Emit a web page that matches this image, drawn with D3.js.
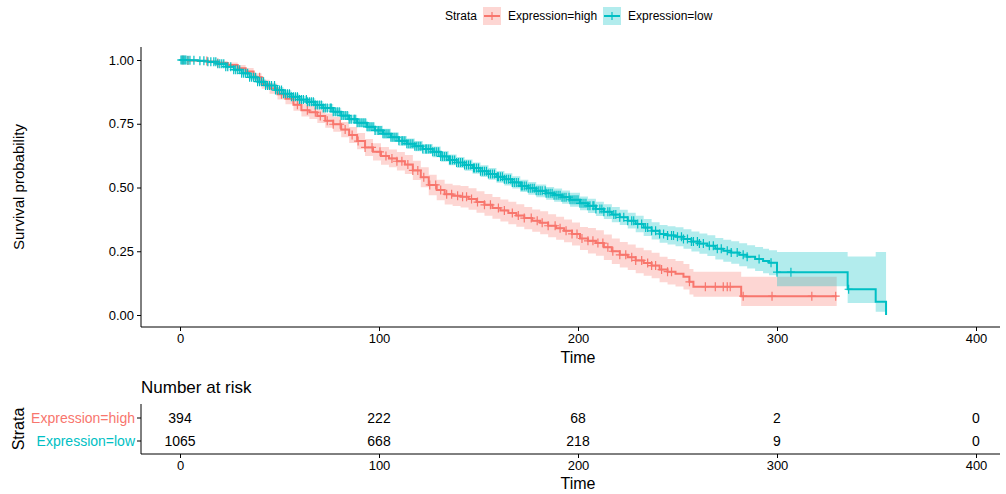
<html>
  <head>
    <meta charset="utf-8">
    <title>Survival by expression</title>
  </head>
<style>
  body { margin: 0; background: #fff; }
  text { font-family: "Liberation Sans", Arial, Helvetica, sans-serif; }
</style>
  <body>
    <script src="https://d3js.org/d3.v7.min.js" charset="utf-8"></script>
    <script>

    var width = 1006,
        height = 494;

    // ---- data ----
    var strata = ["Expression=high", "Expression=low"];
    var colors = ["#F8766D", "#00BFC4"];

    var highTime  = [0, 4, 9, 14, 19, 24, 29, 33, 37, 41, 45, 49, 53, 57, 61, 65, 69, 73, 77, 81, 85, 89, 93, 97, 101, 105, 109, 113, 117, 121, 125, 129, 133, 137, 141, 145, 149, 153, 157, 161, 165, 169, 173, 177, 181, 185, 189, 193, 197, 201, 205, 209, 213, 217, 221, 225, 229, 233, 237, 241, 245, 249, 253, 256, 258, 282, 330];
    var highSurv  = [1.000, .998, .996, .993, .988, .980, .968, .955, .932, .905, .888, .866, .848, .825, .803, .795, .780, .762, .748, .727, .706, .682, .657, .640, .624, .614, .603, .590, .567, .540, .510, .490, .474, .468, .464, .455, .443, .432, .420, .410, .400, .390, .380, .370, .362, .350, .340, .330, .318, .300, .291, .282, .266, .250, .236, .226, .214, .204, .194, .178, .170, .162, .150, .130, .111, .074, .074];
    var highLower = [1.000, .996, .992, .987, .980, .970, .956, .941, .916, .887, .868, .845, .826, .801, .778, .769, .753, .734, .719, .697, .675, .650, .624, .606, .589, .579, .567, .553, .529, .501, .470, .450, .433, .427, .422, .413, .401, .389, .377, .367, .356, .346, .336, .326, .317, .305, .295, .285, .273, .255, .241, .232, .216, .200, .186, .176, .164, .154, .144, .128, .120, .112, .100, .080, .072, .035, .035];
    var highUpper = [1.000, 1.000, 1.000, .999, .996, .990, .980, .969, .948, .923, .908, .887, .870, .849, .828, .821, .807, .790, .777, .757, .737, .714, .690, .674, .659, .649, .639, .627, .605, .579, .550, .530, .515, .509, .506, .497, .485, .475, .463, .453, .444, .434, .424, .414, .407, .395, .385, .375, .363, .345, .341, .332, .316, .300, .286, .276, .264, .254, .244, .228, .220, .212, .200, .180, .170, .150, .150];
    var highCensor = [1.5, 4, 13.5, 19, 40, 51, 59, 64, 68, 70.5, 74, 77, 80.5, 83, 86.5, 89.5, 93, 96.5, 100.5, 103.5, 106.5, 109, 111.5, 114.5, 117, 119.5, 122.5, 125.5, 128.5, 131, 134, 136.5, 139.5, 142, 144, 146.5, 149.5, 153, 156, 160, 163, 167, 170, 173, 176.5, 179.5, 182, 185, 188.5, 191, 194, 197, 199.5, 202, 205, 207.5, 210, 212.5, 215, 217.5, 221, 224, 227, 229, 232, 235, 237, 239, 242, 245, 247, 256, 264, 269, 273, 275, 276.5, 283, 297.5, 317.5, 329.5];

    var lowTime  = [0, 4, 9, 14, 19, 23, 27, 31, 35, 39, 43, 48, 52, 56, 60, 64, 68, 72, 77, 81, 85, 89, 94, 98, 102, 106, 110, 114, 118, 122, 127, 131, 135, 139, 143, 147, 151, 155, 159, 163, 167, 171, 175, 179, 184, 188, 192, 196, 201, 205, 209, 213, 217, 221, 225, 229, 233, 237, 241, 245, 249, 253, 257, 261, 265, 269, 273, 277, 281, 285, 289, 293, 296, 300, 335.5, 349.6, 354.8];
    var lowSurv  = [1.000, .999, .997, .993, .985, .974, .962, .948, .932, .915, .900, .882, .868, .856, .845, .836, .824, .812, .797, .782, .768, .754, .738, .724, .711, .697, .683, .672, .662, .651, .640, .622, .608, .598, .588, .576, .564, .553, .542, .532, .520, .506, .497, .487, .477, .470, .462, .452, .438, .428, .416, .405, .394, .383, .370, .357, .343, .330, .318, .312, .307, .298, .288, .280, .272, .260, .252, .245, .236, .228, .220, .212, .205, .168, .101, .052, 0];
    var lowLower = [1.000, .998, .995, .990, .980, .968, .955, .940, .923, .905, .889, .870, .855, .843, .831, .822, .809, .797, .781, .766, .751, .737, .720, .706, .692, .678, .664, .652, .642, .631, .619, .601, .587, .576, .566, .554, .541, .530, .519, .508, .496, .482, .472, .462, .452, .444, .436, .425, .411, .400, .388, .376, .364, .353, .339, .325, .310, .296, .283, .276, .270, .260, .249, .240, .231, .218, .209, .201, .191, .182, .173, .164, .156, .113, .047, .013, 0];
    var lowUpper = [1.000, 1.000, .999, .996, .990, .980, .969, .956, .941, .925, .911, .894, .881, .869, .859, .850, .839, .827, .813, .798, .785, .771, .756, .742, .730, .716, .702, .692, .682, .671, .661, .643, .629, .620, .610, .598, .587, .576, .565, .556, .544, .530, .522, .512, .502, .496, .488, .479, .465, .456, .444, .434, .424, .413, .401, .389, .376, .364, .353, .348, .344, .336, .327, .320, .313, .302, .295, .289, .281, .274, .267, .260, .254, .247, .229, .247, 0];
    var lowCensor = [0.5, 1, 1.5, 2, 2.5, 3, 4, 5, 7, 10, 12, 14, 15.5, 17, 18, 19, 20, 21, 22, 23, 24, 25.5, 27, 28, 29, 30, 31, 32, 33, 34, 35, 36, 37, 38, 39, 40, 41, 42, 43, 44, 45, 46, 47.5, 48, 49, 50, 51, 52, 53, 54, 55, 56, 57, 58, 59, 60, 61, 62, 63.5, 64, 65, 66, 67, 68, 69, 70, 71, 72, 73, 74, 75.5, 76, 77, 78, 79, 80, 81, 82, 83, 84, 85, 86, 87.5, 88, 89, 90, 91, 92, 93, 94, 95, 96, 97, 98, 99.5, 100, 101, 102, 103, 104, 105, 106, 107, 108, 109, 110, 111.5, 112, 113, 114, 115, 116, 117, 118, 119, 120, 121, 122, 123.5, 124, 125, 126, 127, 128, 129, 130, 131, 132, 133, 134, 135.5, 136, 137, 138, 139, 140, 141, 142, 143, 144, 145, 146, 147.5, 148, 149, 150, 151, 152, 153, 154, 155, 156, 157, 158, 159.5, 160, 161, 162, 163, 164, 165, 166, 167, 168, 169, 170, 171.5, 172, 173, 174, 175, 176, 177, 178, 179, 180, 181, 182, 183.5, 184, 185, 186, 187, 188, 189, 190, 191, 192, 193, 194, 195.5, 196, 197, 198, 199, 200, 201, 202, 203, 204, 205, 206, 207.5, 208, 209, 211, 212, 213, 215, 216, 218, 219, 221, 223, 225, 227, 228, 230, 232, 234, 235, 237, 239, 241, 243, 245, 247, 248, 250, 252, 253, 255, 257, 258, 260, 261, 263, 266, 268, 270, 272, 275, 277, 280, 283, 285, 291, 297, 300, 307, 336];

    var riskTimes = [0, 100, 200, 300, 400];
    var riskHigh  = [394, 222, 68, 2, 0];
    var riskLow   = [1065, 668, 218, 9, 0];

    var xTicks = [0, 100, 200, 300, 400];
    var yTicks = [0, 0.25, 0.5, 0.75, 1];

    var groups = [
      {name: strata[0], color: colors[0], time: highTime, surv: highSurv, lower: highLower, upper: highUpper, censor: highCensor},
      {name: strata[1], color: colors[1], time: lowTime,  surv: lowSurv,  lower: lowLower,  upper: lowUpper,  censor: lowCensor}
    ];

    // ---- layout ----
    var panelLeft = 141, panelRight = 1000, panelTop = 47, panelBottom = 327;

    var svg = d3.select("body")
                .append("svg")
                .attr("width", width)
                .attr("height", height);

    var x = d3.scaleLinear().domain([0, 400]).range([180, 976]);
    var y = d3.scaleLinear().domain([0, 1]).range([315, 60]);

    // ---- ribbons ----
    var area = d3.area()
        .curve(d3.curveStepAfter)
        .x(function(d){ return x(d.t); })
        .y0(function(d){ return y(d.lo); })
        .y1(function(d){ return y(d.hi); });

    var line = d3.line()
        .curve(d3.curveStepAfter)
        .x(function(d){ return x(d.t); })
        .y(function(d){ return y(d.s); });

    groups.forEach(function(g){
      g.pts = g.time.map(function(t, i){
        return {t: t, s: g.surv[i], lo: g.lower[i], hi: g.upper[i]};
      });
    });

    svg.append("g").selectAll("path").data(groups)
       .enter().append("path")
       .attr("d", function(g){ return area(g.pts); })
       .attr("fill", function(g){ return g.color; })
       .attr("fill-opacity", 0.3);

    svg.append("g").selectAll("path").data(groups)
       .enter().append("path")
       .attr("d", function(g){ return line(g.pts); })
       .attr("fill", "none")
       .attr("stroke", function(g){ return g.color; })
       .attr("stroke-width", 2);

    // censor marks sit on the curve
    function survAt(g, t){
      var i = d3.bisectRight(g.time, t) - 1;
      return g.surv[Math.max(0, i)];
    }

    groups.forEach(function(g){
      svg.append("g").selectAll("path").data(g.censor)
         .enter().append("path")
         .attr("d", function(t){
            var cx = x(t), cy = y(survAt(g, t));
            return "M" + (cx - 4) + "," + cy + "h8M" + cx + "," + (cy - 4.5) + "v9";
         })
         .attr("stroke", g.color)
         .attr("stroke-width", 1.2)
         .attr("fill", "none");
    });

    // ---- axes main ----
    var yAxis = d3.axisLeft(y).tickValues(yTicks).tickFormat(d3.format(".2f")).tickSize(4).tickPadding(3);
    var gy = svg.append("g").attr("transform", "translate(" + panelLeft + ",0)").call(yAxis);
    gy.select(".domain").remove();

    var xAxis = d3.axisBottom(x).tickValues(xTicks).tickSize(4).tickPadding(3);
    var gx = svg.append("g").attr("transform", "translate(0," + panelBottom + ")").call(xAxis);
    gx.select(".domain").remove();

    [gx, gy].forEach(function(g){
      g.selectAll("text").attr("font-size", 13).attr("fill", "#000")
       .attr("font-family", "Liberation Sans, Arial, sans-serif");
      g.selectAll("line").attr("stroke", "#000");
    });

    svg.append("path")
       .attr("d", "M" + panelLeft + "," + panelTop + "V" + panelBottom + "H" + panelRight)
       .attr("fill", "none").attr("stroke", "#000").attr("stroke-width", 1);

    svg.append("text").attr("x", 578).attr("y", 363)
       .attr("text-anchor", "middle").attr("font-size", 16).text("Time");

    svg.append("text")
       .attr("transform", "translate(24,187) rotate(-90)")
       .attr("text-anchor", "middle").attr("font-size", 15).text("Survival probability");

    // ---- legend ----
    var leg = svg.append("g");
    leg.append("text").attr("x", 445).attr("y", 20).attr("font-size", 12).text("Strata");
    var legX = [483, 603];
    var legTextX = [508, 628];
    groups.forEach(function(g, i){
      leg.append("rect").attr("x", legX[i]).attr("y", 7).attr("width", 18).attr("height", 18)
         .attr("fill", g.color).attr("fill-opacity", 0.3);
      leg.append("line").attr("x1", legX[i] + 1).attr("x2", legX[i] + 17).attr("y1", 16).attr("y2", 16)
         .attr("stroke", g.color).attr("stroke-width", 2);
      leg.append("line").attr("x1", legX[i] + 9).attr("x2", legX[i] + 9).attr("y1", 12).attr("y2", 20)
         .attr("stroke", g.color).attr("stroke-width", 1.2);
      leg.append("text").attr("x", legTextX[i]).attr("y", 20).attr("font-size", 12).text(g.name);
    });

    // ---- risk table ----
    var tableTop = 404, tableBottom = 454;
    var rowY = [418, 441];
    var risks = [riskHigh, riskLow];

    svg.append("text").attr("x", panelLeft).attr("y", 393).attr("font-size", 17).text("Number at risk");

    svg.append("path")
       .attr("d", "M" + panelLeft + "," + tableTop + "V" + tableBottom + "H" + panelRight)
       .attr("fill", "none").attr("stroke", "#000").attr("stroke-width", 1);

    groups.forEach(function(g, i){
      svg.append("line").attr("x1", panelLeft - 4).attr("x2", panelLeft)
         .attr("y1", rowY[i]).attr("y2", rowY[i]).attr("stroke", "#000");
      svg.append("text").attr("x", panelLeft - 6).attr("y", rowY[i]).attr("dy", "0.35em")
         .attr("text-anchor", "end").attr("font-size", 14).attr("fill", g.color).text(g.name);
      svg.append("g").selectAll("text").data(riskTimes)
         .enter().append("text")
         .attr("x", function(t){ return x(t); })
         .attr("y", rowY[i]).attr("dy", "0.35em")
         .attr("text-anchor", "middle").attr("font-size", 14)
         .text(function(t, j){ return risks[i][j]; });
    });

    var gx2 = svg.append("g").attr("transform", "translate(0," + tableBottom + ")").call(xAxis);
    gx2.select(".domain").remove();
    gx2.selectAll("text").attr("font-size", 13).attr("fill", "#000")
       .attr("font-family", "Liberation Sans, Arial, sans-serif");
    gx2.selectAll("line").attr("stroke", "#000");

    svg.append("text").attr("x", 578).attr("y", 489)
       .attr("text-anchor", "middle").attr("font-size", 16).text("Time");

    svg.append("text")
       .attr("transform", "translate(24,429) rotate(-90)")
       .attr("text-anchor", "middle").attr("font-size", 16).text("Strata");

    </script>
  </body>
</html>
